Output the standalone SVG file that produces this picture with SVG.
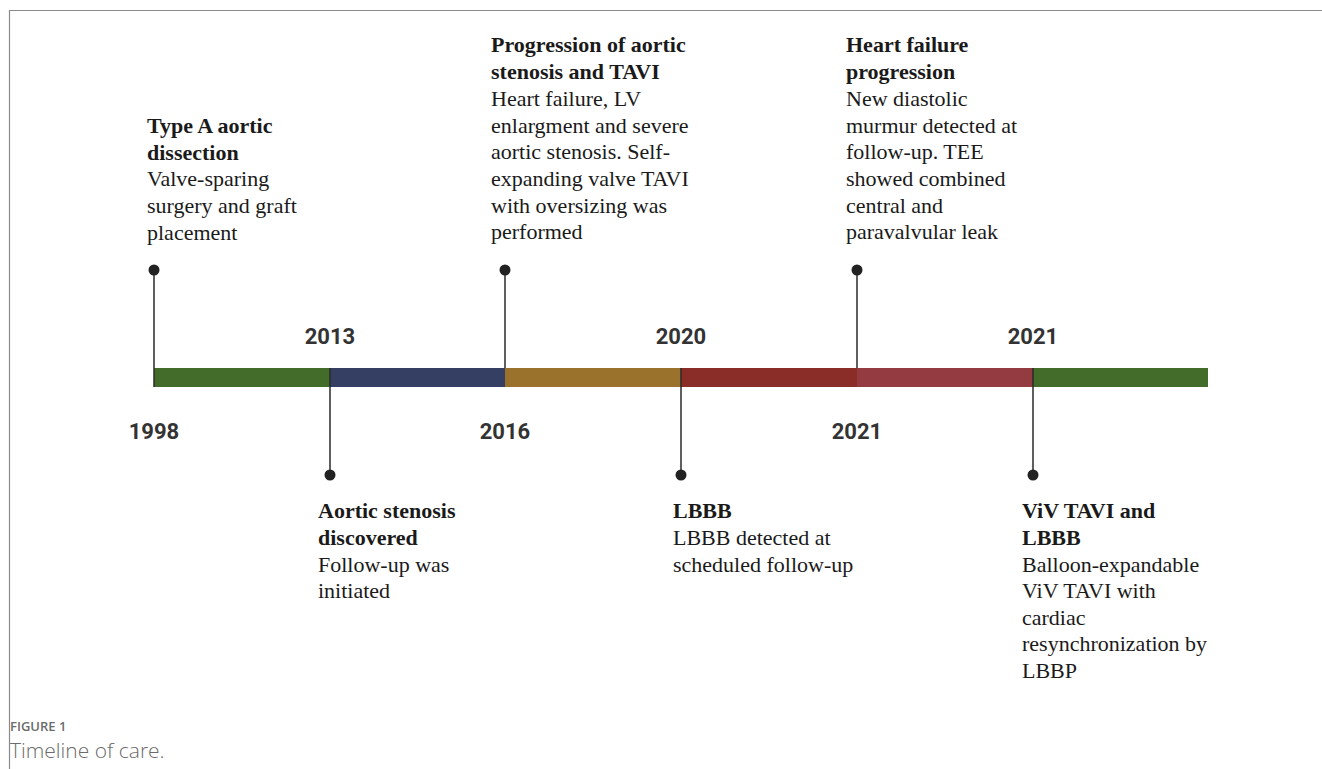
<svg xmlns="http://www.w3.org/2000/svg" width="1322" height="769" viewBox="0 0 1322 769">
<style>
.t{font-family:"Liberation Serif","Times New Roman",serif;font-size:22px;fill:#1a1a1a}
.b{font-weight:bold}
.yr{font-family:Roboto,"Liberation Sans",sans-serif;font-size:22px;font-weight:bold;fill:#333;text-anchor:middle}
.stem{stroke:#2a2a2a;stroke-width:1.5;fill:none}
.dot{fill:#222}
.cap1{font-family:"Open Sans","Liberation Sans",sans-serif;font-size:13px;font-weight:600;fill:#6b6b6b}
.cap2{font-family:"Open Sans","Liberation Sans",sans-serif;font-size:21px;font-weight:300;fill:#6b6b6b}
</style>
<rect width="1322" height="769" fill="#fff"/>
<path d="M9.5 769 V10.5 H1322" stroke="#8a8a8a" stroke-width="1.2" fill="none"/>
<g id="timeline-bar">
<rect x="154" y="368" width="176" height="19" fill="#436b2a"/>
<rect x="330" y="368" width="175" height="19" fill="#343f63"/>
<rect x="505" y="368" width="176" height="19" fill="#9a722c"/>
<rect x="681" y="368" width="176" height="19" fill="#8a2c28"/>
<rect x="857" y="368" width="176" height="19" fill="#943a41"/>
<rect x="1033" y="368" width="175" height="19" fill="#436b2a"/>
</g>
<g id="connectors">
<line class="stem" x1="154" y1="270" x2="154" y2="387"/>
<line class="stem" x1="330" y1="368" x2="330" y2="475"/>
<line class="stem" x1="505" y1="270" x2="505" y2="368"/>
<line class="stem" x1="681" y1="368" x2="681" y2="475"/>
<line class="stem" x1="857" y1="270" x2="857" y2="368"/>
<line class="stem" x1="1033" y1="368" x2="1033" y2="475"/>
<circle class="dot" cx="154" cy="270" r="5.5"/>
<circle class="dot" cx="330" cy="475" r="5.5"/>
<circle class="dot" cx="505" cy="270" r="5.5"/>
<circle class="dot" cx="681" cy="475" r="5.5"/>
<circle class="dot" cx="857" cy="270" r="5.5"/>
<circle class="dot" cx="1033" cy="475" r="5.5"/>
</g>
<g id="years">
<text class="yr" x="154" y="439">1998</text>
<text class="yr" x="330" y="344">2013</text>
<text class="yr" x="505" y="439">2016</text>
<text class="yr" x="681" y="344">2020</text>
<text class="yr" x="857" y="439">2021</text>
<text class="yr" x="1033" y="344">2021</text>
</g>
<g id="event-1998">
<text class="t b" x="147" y="133">Type A aortic</text>
<text class="t b" x="147" y="160">dissection</text>
<text class="t" x="147" y="186">Valve-sparing</text>
<text class="t" x="147" y="213">surgery and graft</text>
<text class="t" x="147" y="240">placement</text>
</g>
<g id="event-2013">
<text class="t b" x="318" y="518">Aortic stenosis</text>
<text class="t b" x="318" y="545">discovered</text>
<text class="t" x="318" y="572">Follow-up was</text>
<text class="t" x="318" y="598">initiated</text>
</g>
<g id="event-2016">
<text class="t b" x="491" y="52">Progression of aortic</text>
<text class="t b" x="491" y="79">stenosis and TAVI</text>
<text class="t" x="491" y="106">Heart failure, LV</text>
<text class="t" x="491" y="133">enlargment and severe</text>
<text class="t" x="491" y="159">aortic stenosis. Self-</text>
<text class="t" x="491" y="186">expanding valve TAVI</text>
<text class="t" x="491" y="213">with oversizing was</text>
<text class="t" x="491" y="239">performed</text>
</g>
<g id="event-2020">
<text class="t b" x="673" y="518">LBBB</text>
<text class="t" x="673" y="545">LBBB detected at</text>
<text class="t" x="673" y="572">scheduled follow-up</text>
</g>
<g id="event-2021a">
<text class="t b" x="846" y="52">Heart failure</text>
<text class="t b" x="846" y="79">progression</text>
<text class="t" x="846" y="106">New diastolic</text>
<text class="t" x="846" y="133">murmur detected at</text>
<text class="t" x="846" y="159">follow-up. TEE</text>
<text class="t" x="846" y="186">showed combined</text>
<text class="t" x="846" y="213">central and</text>
<text class="t" x="846" y="239">paravalvular leak</text>
</g>
<g id="event-2021b">
<text class="t b" x="1022" y="518">ViV TAVI and</text>
<text class="t b" x="1022" y="545">LBBB</text>
<text class="t" x="1022" y="572">Balloon-expandable</text>
<text class="t" x="1022" y="598">ViV TAVI with</text>
<text class="t" x="1022" y="625">cardiac</text>
<text class="t" x="1022" y="651">resynchronization by</text>
<text class="t" x="1022" y="678">LBBP</text>
</g>
<g id="caption">
<text class="cap1" x="10" y="731">FIGURE 1</text>
<text class="cap2" x="10" y="758">Timeline of care.</text>
</g>
</svg>
